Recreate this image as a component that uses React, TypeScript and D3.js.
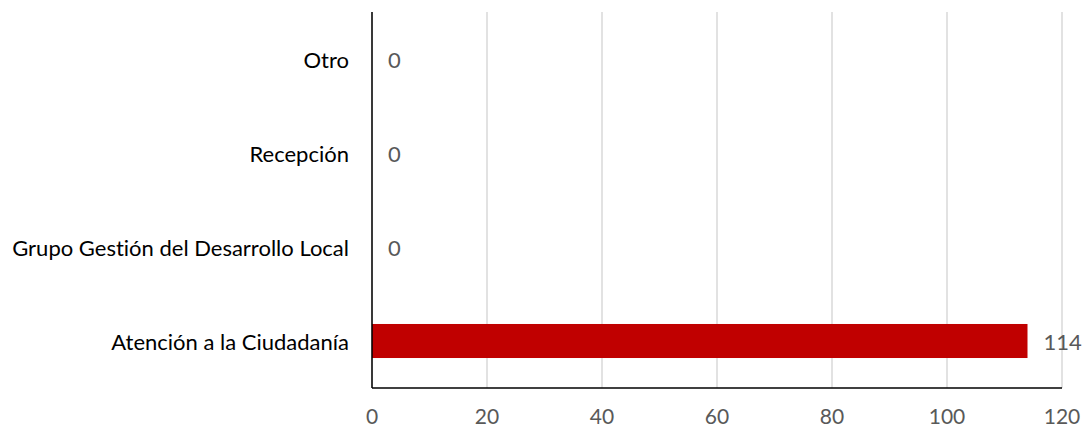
import React from "react";
import * as d3 from "d3";

const categories = [
  "Otro",
  "Recepción",
  "Grupo Gestión del Desarrollo Local",
  "Atención a la Ciudadanía",
];
const values = [0, 0, 0, 114];
const xTicks = [0, 20, 40, 60, 80, 100, 120];

const W = 1083;
const H = 429;
const FONT = "Lato, 'Open Sans', sans-serif";

export default function App() {
  const left = 372;
  const right = 1062;
  const top = 12;
  const bottom = 388;

  const x = d3.scaleLinear().domain([0, 120]).range([left, right]);
  const y = d3
    .scaleBand<string>()
    .domain(categories)
    .range([top, bottom])
    .paddingInner(0.638)
    .paddingOuter(0.319);

  return (
    <svg
      width={W}
      height={H}
      style={{
        position: "absolute",
        left: 0,
        top: 0,
        background: "#fff",
        fontVariantLigatures: "none",
      }}
      fontFamily={FONT}
    >
      {xTicks.map((t) => (
        <line
          key={"g" + t}
          x1={x(t)}
          x2={x(t)}
          y1={top}
          y2={bottom}
          stroke="#d9d9d9"
          strokeWidth={1.5}
        />
      ))}
      {categories.map((c, i) => (
        <rect
          key={"b" + c}
          x={x(0)}
          y={y(c)!}
          width={x(values[i]) - x(0)}
          height={y.bandwidth()}
          fill="#c00000"
        />
      ))}
      <line x1={x(0)} x2={x(0)} y1={top} y2={bottom} stroke="#000" strokeWidth={1.5} />
      <line x1={x(0)} x2={right} y1={bottom} y2={bottom} stroke="#000" strokeWidth={1.5} />
      {categories.map((c) => (
        <text
          key={"c" + c}
          x={349}
          y={y(c)! + y.bandwidth() / 2}
          textAnchor="end"
          dominantBaseline="central"
          fontSize={22}
          fill="#000"
        >
          {c}
        </text>
      ))}
      {categories.map((c, i) => (
        <text
          key={"v" + c}
          x={x(values[i]) + 16}
          y={y(c)! + y.bandwidth() / 2}
          dominantBaseline="central"
          fontSize={22}
          fill="#595959"
        >
          {values[i]}
        </text>
      ))}
      {xTicks.map((t) => (
        <text
          key={"t" + t}
          x={x(t)}
          y={424}
          textAnchor="middle"
          fontSize={21}
          fill="#595959"
        >
          {t}
        </text>
      ))}
    </svg>
  );
}
